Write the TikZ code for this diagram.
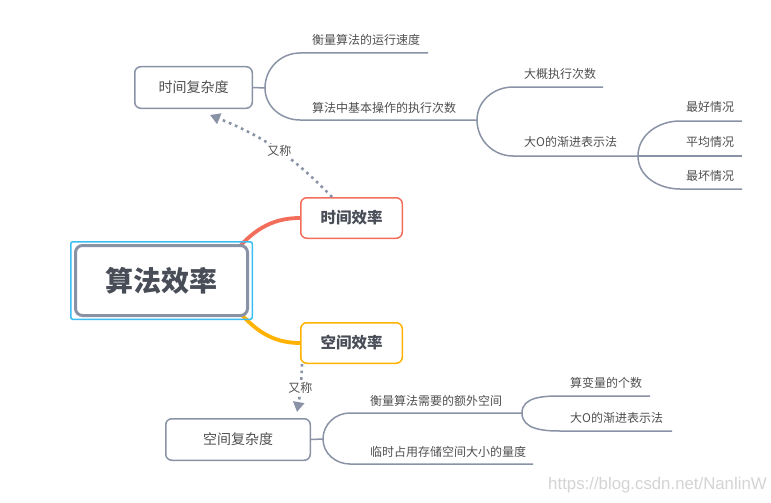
\documentclass[tikz,border=0pt]{standalone}
\usepackage{fontspec}
\setmainfont{Noto Sans CJK SC}
\newfontfamily\wmfont{Liberation Sans}
\usetikzlibrary{arrows.meta,calc}
\definecolor{lgray}{RGB}{138,147,166}
\definecolor{effred}{RGB}{243,110,90}
\definecolor{effyel}{RGB}{255,178,0}
\definecolor{selblue}{RGB}{60,190,245}
\definecolor{txtdark}{RGB}{72,77,87}
\definecolor{txtleaf}{RGB}{80,80,80}
\definecolor{wmgray}{RGB}{212,212,212}
\pgfdeclarelayer{bg}
\pgfdeclarelayer{canvas}
\pgfsetlayers{canvas,bg,main}
\tikzset{
  selbox/.style={draw=selblue, line width=1.5pt, rounded corners=2pt, minimum width=181.5pt, minimum height=77.5pt, inner sep=0pt},
  mainbox/.style={draw=lgray, line width=3pt, rounded corners=7pt, fill=white, minimum width=172pt, minimum height=70pt, inner sep=0pt, text=txtdark, font=\fontsize{28}{30}\selectfont\bfseries},
  effbox/.style={line width=1.5pt, rounded corners=6pt, fill=white, minimum width=101.5pt, minimum height=40.5pt, inner sep=0pt, text=txtdark, font=\fontsize{15.5}{17}\selectfont\bfseries},
  subbox/.style={draw=lgray, line width=1.5pt, rounded corners=6pt, fill=white, minimum width=117.5pt, minimum height=41.5pt, inner sep=0pt, text=txtleaf, font=\fontsize{14}{16}\selectfont},
  leaf/.style={anchor=west, inner sep=0pt, text=txtleaf, font=\fontsize{12}{14}\selectfont},
  branch/.style={draw=lgray, line width=1.5pt},
  thick conn/.style={line width=3.8pt, line cap=round},
  alias/.style={draw=lgray, line width=2.6pt, dash pattern=on 2.6pt off 4pt, -{Triangle[length=10pt,width=11pt]}},
  aliaslabel/.style={fill=white, inner sep=1.5pt, text=txtleaf, font=\fontsize{12}{14}\selectfont}
}
\begin{document}
\begin{tikzpicture}[x=1pt,y=1pt]
\begin{pgfonlayer}{canvas}
  \fill[white] (0,0) rectangle (771,-503);
\end{pgfonlayer}
\useasboundingbox (0,0) rectangle (771,-503);

% main nodes
\node[selbox] (sel) at (161.5,-280.5) {};
\node[mainbox] (cn) at (161.5,-280.5) {算法效率};
\node[effbox, draw=effred] (te) at (351.5,-218) {时间效率};
\node[effbox, draw=effyel] (se) at (351.5,-343) {空间效率};
\node[subbox] (tc) at (193.5,-87.5) {时间复杂度};
\node[subbox, minimum width=144.5pt] (sc) at (238,-439.5) {空间复杂度};

% branch coordinates (time)
\coordinate (b1) at (265,-88);
\coordinate (t1s) at (300,-53);  \coordinate (t1e) at (428,-53);
\coordinate (t2s) at (300,-120);
\coordinate (b2) at (477,-120);
\coordinate (t3s) at (513,-87);  \coordinate (t3e) at (603,-87);
\coordinate (t4s) at (513,-156);
\coordinate (b3) at (638,-156);
\coordinate (t5s) at (680,-121); \coordinate (t5e) at (742,-121);
\coordinate (t6e) at (742,-156);
\coordinate (t7s) at (680,-189); \coordinate (t7e) at (742,-189);

% branch coordinates (space)
\coordinate (b4) at (323,-439);
\coordinate (s1s) at (350,-413);
\coordinate (b5) at (522,-413);
\coordinate (s2s) at (350,-464); \coordinate (s2e) at (533,-464);
\coordinate (s3s) at (560,-396); \coordinate (s3e) at (650,-396);
\coordinate (s4s) at (560,-431); \coordinate (s4e) at (672,-431);

% leaf labels
\node[leaf] (l1) at (312,-40) {衡量算法的运行速度};
\node[leaf] (l2) at (312,-108) {算法中基本操作的执行次数};
\node[leaf] (l3) at (524,-74) {大概执行次数};
\node[leaf] (l4) at (524,-142) {大O的渐进表示法};
\node[leaf] (l5) at (686,-107) {最好情况};
\node[leaf] (l6) at (686,-142) {平均情况};
\node[leaf] (l7) at (686,-176) {最坏情况};
\node[leaf] (l8) at (370,-401) {衡量算法需要的额外空间};
\node[leaf] (l9) at (370,-452) {临时占用存储空间大小的量度};
\node[leaf] (l10) at (570,-383) {算变量的个数};
\node[leaf] (l11) at (570,-418) {大O的渐进表示法};

% alias arrows
\coordinate (ttip) at (210,-115);
\coordinate (stip) at (297,-412);
\draw[alias] ($(te.north west)+(32,0)$) to[bend right=12] node[aliaslabel, pos=0.47] (a1) {又称} (ttip);
\draw[alias] ($(se.south west)+(2,0)$) to[bend left=4] node[aliaslabel, pos=0.5] (a2) {又称} (stip);

\node[font=\wmfont\fontsize{16.8}{20}\selectfont, text=wmgray, inner sep=0pt] (wm) at (657.5,-485) {https://blog.csdn.net/NanlinW};

\begin{pgfonlayer}{bg}
  \draw[thick conn, effred] (232,-255) to[out=50,in=180] (te.west);
  \draw[thick conn, effyel] (234,-306) to[out=-50,in=180] (se.west);

  \draw[branch] (tc.east) -- (b1);
  \draw[branch] (b1) to[out=90,in=180] (t1s) -- (t1e);
  \draw[branch] (b1) to[out=-90,in=180] (t2s) -- (b2);
  \draw[branch] (b2) to[out=90,in=180] (t3s) -- (t3e);
  \draw[branch] (b2) to[out=-90,in=180] (t4s) -- (b3);
  \draw[branch] (b3) to[out=90,in=180] (t5s) -- (t5e);
  \draw[branch] (b3) -- (t6e);
  \draw[branch] (b3) to[out=-90,in=180] (t7s) -- (t7e);

  \draw[branch] (sc.east) -- (b4);
  \draw[branch] (b4) to[out=90,in=180] (s1s) -- (b5);
  \draw[branch] (b4) to[out=-90,in=180] (s2s) -- (s2e);
  \draw[branch] (b5) to[out=90,in=180] (s3s) -- (s3e);
  \draw[branch] (b5) to[out=-90,in=180] (s4s) -- (s4e);
\end{pgfonlayer}
\end{tikzpicture}
\end{document}
